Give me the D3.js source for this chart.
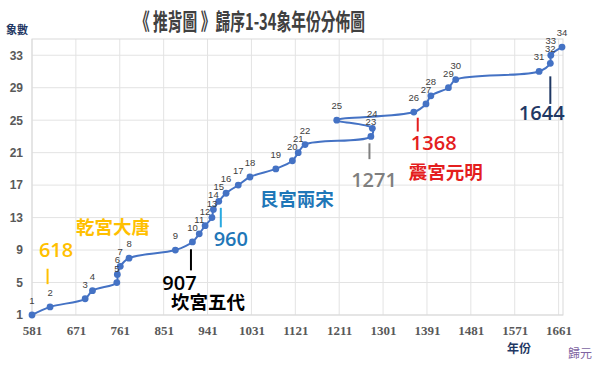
<!DOCTYPE html>
<html>
<head>
<meta charset="utf-8">
<script src="https://cdn.jsdelivr.net/npm/d3@7"></script>
<style>
  body { margin: 0; background: #fff; }
  text { font-family: "Liberation Sans", "Noto Sans CJK TC", sans-serif; }
</style>
</head>
<body>
<svg id="chart" width="600" height="365"></svg>
<script>
// 象 number (order in 歸序) and the year read for it
const xiangNo = [1, 2, 3, 4, 5, 6, 7, 8, 9, 10, 11, 12, 13, 14, 15, 16, 17,
  18, 19, 20, 21, 22, 23, 24, 25, 26, 27, 28, 29, 30, 31, 32, 33, 34];
const years = [581, 618, 690, 705, 755, 756, 762, 780, 875, 910, 924, 936,
  950, 953, 964, 979, 1004, 1028, 1081, 1115, 1127, 1141, 1276, 1279, 1206,
  1364, 1389, 1399, 1435, 1450, 1621, 1644, 1645, 1668];

const xTicks = [581, 671, 761, 851, 941, 1031, 1121, 1211, 1301, 1391, 1481, 1571, 1661];
const yTicks = [1, 5, 9, 13, 17, 21, 25, 29, 33];

// dynasty markers
const eraYears = [618, 907, 960, 1271, 1368, 1644];
const eraNames = ["乾宮大唐", "坎宮五代", "艮宮兩宋", "", "震宮元明", ""];

const titleText = "《 推背圖 》歸序1-34象年份分佈圖";

let svg = d3.select("#chart");

let x = d3.scaleLinear().domain([581, 1670]).range([32, 563]);
let y = d3.scaleLinear().domain([1, 35]).range([315, 39]);

// grid
const grid = svg.append("g").attr("class", "grid");
grid.selectAll("line.v")
  .data(xTicks)
  .enter()
  .append("line")
  .attr("x1", (d) => x(d)).attr("x2", (d) => x(d))
  .attr("y1", y(35)).attr("y2", y(1))
  .attr("stroke", "#e3e3e3");
grid.selectAll("line.h")
  .data(yTicks)
  .enter()
  .append("line")
  .attr("x1", x(581)).attr("x2", x(1670))
  .attr("y1", (d) => y(d)).attr("y2", (d) => y(d))
  .attr("stroke", "#e3e3e3");
// plot border
grid.append("rect")
  .attr("x", x(581)).attr("y", y(35))
  .attr("width", x(1670) - x(581)).attr("height", y(1) - y(35))
  .attr("fill", "none").attr("stroke", "#d9d9d9");

// axes (labels only, Excel style)
let xAxis = svg.append("g")
  .attr("transform", `translate(0,${y(1)})`)
  .call(d3.axisBottom(x).tickValues(xTicks).tickFormat(d3.format("d")).tickSize(0).tickPadding(11));
xAxis.select(".domain").remove();
xAxis.selectAll("text")
  .attr("fill", "#595959")
  .style("font-family", "'Liberation Serif', serif")
  .style("font-weight", "bold")
  .style("font-size", "13px");

let yAxis = svg.append("g")
  .attr("transform", `translate(${x(581)},0)`)
  .call(d3.axisLeft(y).tickValues(yTicks).tickFormat(d3.format("d")).tickSize(0).tickPadding(9));
yAxis.select(".domain").remove();
yAxis.selectAll("text")
  .attr("fill", "#595959")
  .style("font-weight", "bold")
  .style("font-size", "12px");

// series
const pts = xiangNo.map((n, i) => ({ n: n, year: years[i] }));

let line = d3.line()
  .x((d) => x(d.year))
  .y((d) => y(d.n))
  .curve(d3.curveCatmullRom.alpha(0.5));

svg.append("path")
  .datum(pts)
  .attr("d", line)
  .attr("fill", "none")
  .attr("stroke", "#4472c4")
  .attr("stroke-width", 2);

svg.selectAll("circle.pt")
  .data(pts)
  .enter()
  .append("circle")
  .attr("class", "pt")
  .attr("cx", (d) => x(d.year))
  .attr("cy", (d) => y(d.n))
  .attr("r", 3.4)
  .attr("fill", "#4472c4");

svg.selectAll("text.lbl")
  .data(pts)
  .enter()
  .append("text")
  .attr("class", "lbl")
  .attr("x", (d) => x(d.year))
  .attr("y", (d) => y(d.n) - 11)
  .attr("text-anchor", "middle")
  .attr("fill", "#404040")
  .style("font-size", "9.5px")
  .text((d) => d.n);

// era annotations: offsets (px) from the year, heights in 象 units
const eraLayout = [
  { color: "#ffc000", lineColor: "#ffc000", dx: -2.5, y1: 6.7, y2: 4.8, numDx: 6, numY: 8.15, nameDx: 63, nameY: 10.95 },
  { color: "#000000", lineColor: "#000000", dx: 0, y1: 9.1, y2: 6.5, numDx: -11.5, numY: 4.1, nameDx: 17, nameY: 1.75 },
  { color: "#1f77b8", lineColor: "#29a9e0", dx: 4, y1: 14.2, y2: 11.8, numDx: 14, numY: 9.5, nameDx: 80, nameY: 14.45 },
  { color: "#7f7f7f", lineColor: "#7f7f7f", dx: 1, y1: 22.15, y2: 20.2, numDx: 5.6, numY: 16.8 },
  { color: "#e41e1e", lineColor: "#e41e1e", dx: 2, y1: 25.3, y2: 23.6, numDx: 18, numY: 21.3, nameDx: 30, nameY: 17.8 },
  { color: "#1f3864", lineColor: "#1f3864", dx: 0, y1: 30.4, y2: 27.0, numDx: -8.6, numY: 25.0 }
];

eraYears.forEach((yr, i) => {
  const L = eraLayout[i];
  const g = svg.append("g").attr("class", "era");
  g.append("line")
    .attr("x1", x(yr) + L.dx).attr("x2", x(yr) + L.dx)
    .attr("y1", y(L.y1)).attr("y2", y(L.y2))
    .attr("stroke", L.lineColor)
    .attr("stroke-width", 2);
  g.append("text")
    .attr("x", x(yr) + L.numDx)
    .attr("y", y(L.numY))
    .attr("text-anchor", "middle")
    .attr("fill", L.color)
    .style("font-family", "'Open Sans', sans-serif")
    .style("font-weight", "600")
    .style("font-size", "20px")
    .text(yr);
  if (eraNames[i]) {
    g.append("text")
      .attr("x", x(yr) + L.nameDx)
      .attr("y", y(L.nameY))
      .attr("text-anchor", "middle")
      .attr("fill", L.color)
      .style("font-family", "'Noto Sans CJK TC', sans-serif")
      .style("font-weight", "bold")
      .style("font-size", "18.5px")
      .text(eraNames[i]);
  }
});

// title and axis titles
svg.append("text")
  .attr("x", 135)
  .attr("y", 30)
  .attr("textLength", 230)
  .attr("lengthAdjust", "spacingAndGlyphs")
  .attr("fill", "#404040")
  .style("font-family", "'Noto Sans CJK TC', sans-serif")
  .style("font-weight", "bold")
  .style("font-size", "23px")
  .text(titleText);

svg.append("text")
  .attr("x", 17).attr("y", 34)
  .attr("text-anchor", "middle")
  .attr("fill", "#1f3864")
  .style("font-family", "'Noto Sans CJK TC', sans-serif")
  .style("font-weight", "bold")
  .style("font-size", "11px")
  .text("象數");

svg.append("text")
  .attr("x", 519).attr("y", 353)
  .attr("text-anchor", "middle")
  .attr("fill", "#1f3864")
  .style("font-family", "'Noto Sans CJK TC', sans-serif")
  .style("font-weight", "bold")
  .style("font-size", "12px")
  .text("年份");

svg.append("text")
  .attr("x", 580).attr("y", 358)
  .attr("text-anchor", "middle")
  .attr("fill", "#8064a2")
  .style("font-family", "'Noto Sans CJK TC', sans-serif")
  .style("font-size", "12px")
  .text("歸元");
</script>
</body>
</html>
